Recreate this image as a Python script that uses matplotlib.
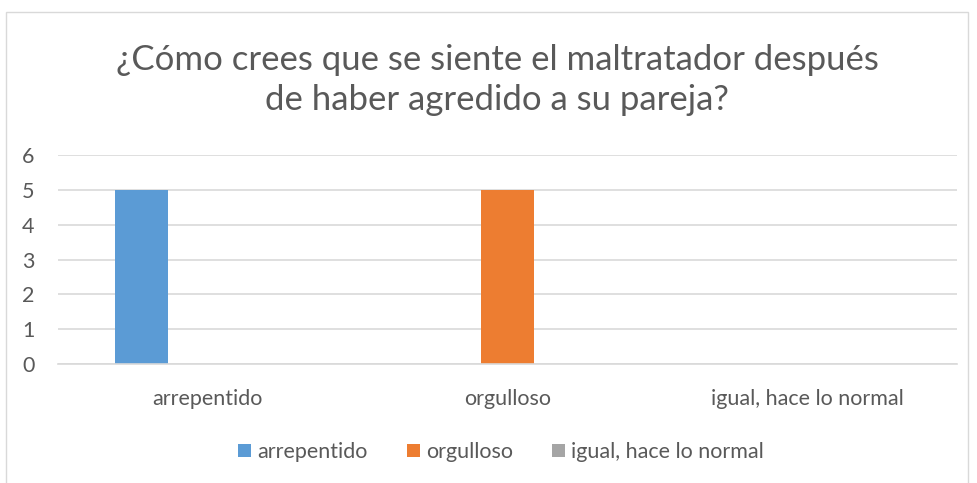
import matplotlib
matplotlib.use("Agg")
from matplotlib import pyplot as plt
from matplotlib.patches import Rectangle
import numpy as np

plt.rcParams['font.family'] = ['Lato', 'DejaVu Sans']

title = "¿Cómo crees que se siente el maltratador después\nde haber agredido a su pareja?"
categories = ["arrepentido", "orgulloso", "igual, hace lo normal"]
series_names = ["arrepentido", "orgulloso", "igual, hace lo normal"]
arrepentido = [5, 0, 0]
orgulloso = [0, 5, 0]
igual = [0, 0, 0]
colors = ["#5B9BD5", "#ED7D31", "#A5A5A5"]
text_color = "#595959"

fig = plt.figure(figsize=(9.77, 4.83), dpi=100)
# outer chart frame
fig.patches.append(Rectangle((6 / 977, -0.05), 962 / 977, 1.05 - 12 / 483,
                             transform=fig.transFigure, fill=False,
                             edgecolor="#d9d9d9", linewidth=1.0))

ax = fig.add_axes([58 / 977, 1 - 364 / 483, 899 / 977, 209 / 483])

x = np.arange(len(categories))
bar_w = 0.177
step = 0.222
for i, (vals, name) in enumerate(zip([arrepentido, orgulloso, igual], series_names)):
    ax.bar(x + (i - 1) * step, vals, width=bar_w, color=colors[i], label=name)

ax.set_xlim(-0.5, len(categories) - 0.5)
ax.set_ylim(0, 6)
ax.set_yticks(range(0, 7))
ax.set_xticks(x)
ax.set_xticklabels(categories)
ax.yaxis.grid(True, color="#d9d9d9", linewidth=1.2)
ax.set_axisbelow(True)
for s in ax.spines.values():
    s.set_visible(False)
ax.spines['bottom'].set_visible(True)
ax.spines['bottom'].set_color("#d9d9d9")
ax.spines['bottom'].set_linewidth(1.2)
ax.tick_params(axis='both', length=0, labelsize=15.5, labelcolor=text_color)
ax.tick_params(axis='x', pad=18)
ax.tick_params(axis='y', pad=17)

fig.text(0.509, 1 - 80 / 483, title, ha='center', va='center', fontsize=25,
         color=text_color, linespacing=1.3)

fig.legend(loc='center', bbox_to_anchor=(0.513, 1 - 452 / 483), ncol=3,
           frameon=False, fontsize=15.5, labelcolor=text_color,
           handlelength=0.6, handleheight=0.6, handletextpad=0.3,
           columnspacing=1.8)

fig.savefig("out.png", dpi=100)
